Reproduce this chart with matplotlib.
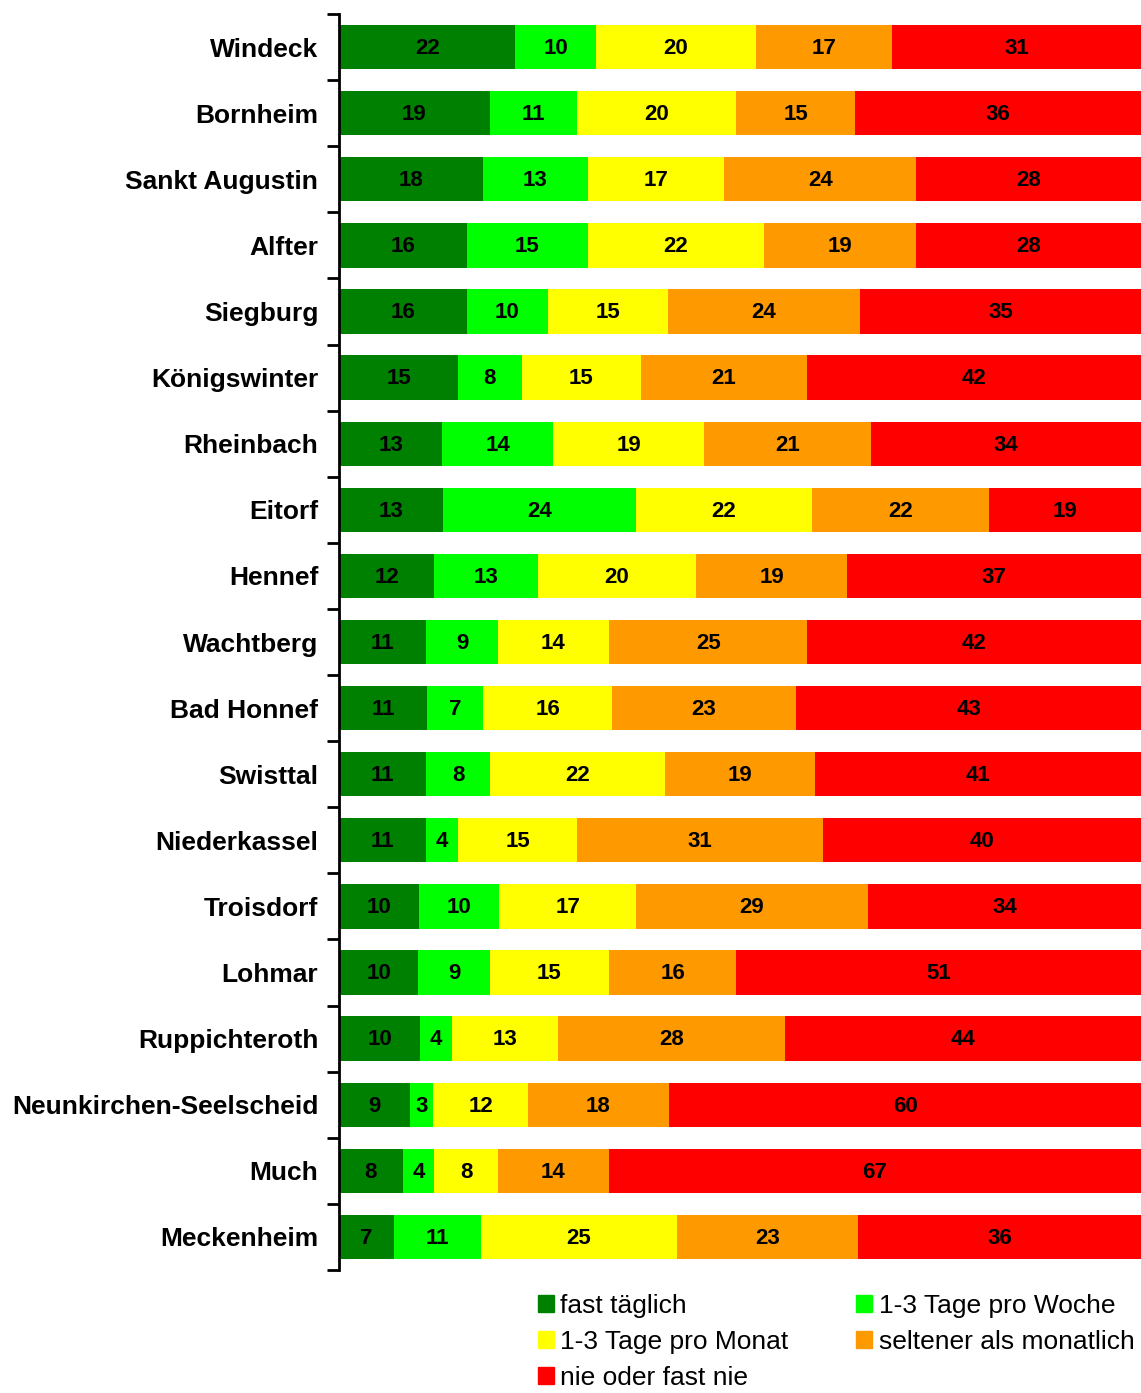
import numpy as np
import matplotlib.pyplot as plt
from matplotlib.patches import Patch

plt.rcParams['font.family'] = ['Liberation Sans', 'DejaVu Sans']

orte = ["Windeck", "Bornheim", "Sankt Augustin", "Alfter", "Siegburg",
        "Königswinter", "Rheinbach", "Eitorf", "Hennef", "Wachtberg",
        "Bad Honnef", "Swisttal", "Niederkassel", "Troisdorf", "Lohmar",
        "Ruppichteroth", "Neunkirchen-Seelscheid", "Much", "Meckenheim"]

fast_taeglich = [22, 19, 18, 16, 16, 15, 13, 13, 12, 11, 11, 11, 11, 10, 10, 10, 9, 8, 7]
pro_woche     = [10, 11, 13, 15, 10, 8, 14, 24, 13, 9, 7, 8, 4, 10, 9, 4, 3, 4, 11]
pro_monat     = [20, 20, 17, 22, 15, 15, 19, 22, 20, 14, 16, 22, 15, 17, 15, 13, 12, 8, 25]
seltener      = [17, 15, 24, 19, 24, 21, 21, 22, 19, 25, 23, 19, 31, 29, 16, 28, 18, 14, 23]
nie           = [31, 36, 28, 28, 35, 42, 34, 19, 37, 42, 43, 41, 40, 34, 51, 44, 60, 67, 36]

kategorien = ["fast täglich", "1-3 Tage pro Woche", "1-3 Tage pro Monat",
              "seltener als monatlich", "nie oder fast nie"]
farben = ["#008000", "#00ff00", "#ffff00", "#ff9900", "#ff0000"]

werte = np.array([fast_taeglich, pro_woche, pro_monat, seltener, nie], dtype=float)
anteile = werte / werte.sum(axis=0) * 100  # 100%-gestapelt

fig = plt.figure(figsize=(11.41, 13.93), dpi=100)
ax = fig.add_axes([339 / 1141, 1 - 1270 / 1393, 1 - 339 / 1141, (1270 - 14) / 1393])

y = np.arange(len(orte))
links = np.zeros(len(orte))
for i in range(len(kategorien)):
    ax.barh(y, anteile[i], left=links, height=0.67, color=farben[i], label=kategorien[i])
    for j in range(len(orte)):
        ax.text(links[j] + anteile[i][j] / 2, y[j] + 0.02, str(int(werte[i][j])),
                ha='center', va='center', fontsize=16, fontweight='bold')
    links += anteile[i]

ax.set_xlim(0, 100)
ax.set_ylim(len(orte) - 0.5, -0.5)
ax.set_yticks(y)
ax.set_yticklabels(orte, fontsize=19, fontweight='bold')
ax.tick_params(axis='y', which='major', length=0, pad=15)
ax.set_yticks(np.arange(-0.5, len(orte)), minor=True)
ax.tick_params(axis='y', which='minor', length=9, width=2, direction='out')
ax.set_xticks([])
for s in ['top', 'right', 'bottom']:
    ax.spines[s].set_visible(False)
ax.spines['left'].set_linewidth(2)

# Legende: zeilenweise Reihenfolge wie im Original
h = [Patch(color=c) for c in farben]
reihenfolge = [0, 2, 4, 1, 3]
fig.legend([h[k] for k in reihenfolge], [kategorien[k] for k in reihenfolge],
           loc='upper left', bbox_to_anchor=(538 / 1141, 1 - 1294 / 1393),
           ncol=2, frameon=False, fontsize=19, handlelength=0.6, handleheight=0.6,
           handletextpad=0.25, columnspacing=2.56, labelspacing=0.45, borderaxespad=0,
           borderpad=0)

fig.savefig("out.png", dpi=100)
